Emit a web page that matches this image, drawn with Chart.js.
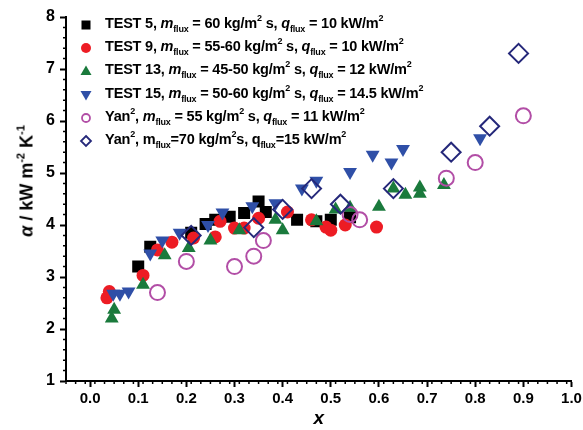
<!DOCTYPE html>
<html>
<head>
<meta charset="utf-8">
<script src="https://cdn.jsdelivr.net/npm/chart.js@4/dist/chart.umd.min.js"></script>
<style>
  html, body { margin: 0; padding: 0; background: #fff; }
  #wrap { position: relative; width: 583px; height: 430px; font-family: "Liberation Sans", Arial, sans-serif; }
  #grafico { position: absolute; left: 0; top: 0; }
  .leg { position: absolute; left: 78px; top: 13px; font-weight: bold; font-size: 14.5px; color: #000; }
  .row { position: relative; height: 23.2px; line-height: 20px; white-space: nowrap; }
  .row .mk { position: absolute; left: 0; top: 4px; width: 16px; height: 16px; }
  .row .tx { position: absolute; left: 27px; top: 0; letter-spacing: -0.2px; }
  sub, sup { font-size: 9px; line-height: 0; }
  sub { vertical-align: -4px; }
  sup { vertical-align: 7px; }
  .ytitle { position: absolute; left: 27px; top: 181px; transform: translate(-50%, -50%) rotate(-90deg);
            font-weight: bold; font-size: 18px; white-space: nowrap; }
  .ytitle sup { font-size: 11px; vertical-align: 8px; }
</style>
</head>
<body>
<div id="wrap">
  <canvas id="grafico" width="583" height="430"></canvas>
  <div class="ytitle"><i>α</i> / kW m<sup>-2</sup> K<sup>-1</sup></div>
  <div class="leg">
    <div class="row"><svg class="mk" viewBox="0 0 16 16"><rect x="3.5" y="3.5" width="9" height="9" fill="#000"/></svg><span class="tx">TEST 5, <i>m</i><sub>flux</sub> = 60 kg/m<sup>2</sup> s, <i>q</i><sub>flux</sub> = 10 kW/m<sup>2</sup></span></div>
    <div class="row"><svg class="mk" viewBox="0 0 16 16"><circle cx="8" cy="8" r="5" fill="#ed1c24"/></svg><span class="tx">TEST 9, <i>m</i><sub>flux</sub> = 55-60 kg/m<sup>2</sup> s, <i>q</i><sub>flux</sub> = 10 kW/m<sup>2</sup></span></div>
    <div class="row"><svg class="mk" viewBox="0 0 16 16"><polygon points="8,2.5 13.5,12 2.5,12" fill="#1a7a3c"/></svg><span class="tx">TEST 13, <i>m</i><sub>flux</sub> = 45-50 kg/m<sup>2</sup> s, <i>q</i><sub>flux</sub> = 12 kW/m<sup>2</sup></span></div>
    <div class="row"><svg class="mk" viewBox="0 0 16 16"><polygon points="2.5,4 13.5,4 8,13.5" fill="#2f4fa7"/></svg><span class="tx">TEST 15, <i>m</i><sub>flux</sub> = 50-60 kg/m<sup>2</sup> s, <i>q</i><sub>flux</sub> = 14.5 kW/m<sup>2</sup></span></div>
    <div class="row"><svg class="mk" viewBox="0 0 16 16"><circle cx="8" cy="8" r="4" fill="none" stroke="#b24ea6" stroke-width="1.8"/></svg><span class="tx">Yan<sup>2</sup>, <i>m</i><sub>flux</sub> = 55 kg/m<sup>2</sup> s, <i>q</i><sub>flux</sub> = 11 kW/m<sup>2</sup></span></div>
    <div class="row"><svg class="mk" viewBox="0 0 16 16"><polygon points="8,3 13,8 8,13 3,8" fill="none" stroke="#25287a" stroke-width="1.8"/></svg><span class="tx">Yan<sup>2</sup>, m<sub>flux</sub>=70 kg/m<sup>2</sup>s, q<sub>flux</sub>=15 kW/m<sup>2</sup></span></div>
  </div>
</div>
<script>
// valores (x = calidad de vapor, alfa en kW/m2K)
const test5X = [0.10, 0.125, 0.21, 0.24, 0.26, 0.29, 0.32, 0.35, 0.365, 0.43, 0.47, 0.50, 0.54];
const test5Y = [3.20, 3.58, 3.85, 4.02, 4.10, 4.16, 4.23, 4.45, 4.25, 4.10, 4.07, 4.10, 4.15];

const test9X = [0.035, 0.04, 0.11, 0.14, 0.17, 0.215, 0.26, 0.27, 0.30, 0.32, 0.35, 0.41, 0.46, 0.49, 0.50, 0.53, 0.595];
const test9Y = [2.60, 2.72, 3.03, 3.52, 3.67, 3.75, 3.77, 4.07, 3.94, 3.94, 4.13, 4.25, 4.10, 3.96, 3.90, 4.00, 3.96];

const test13X = [0.045, 0.05, 0.11, 0.155, 0.205, 0.25, 0.31, 0.385, 0.40, 0.47, 0.51, 0.54, 0.60, 0.63, 0.655, 0.685, 0.685, 0.735];
const test13Y = [2.20, 2.37, 2.85, 3.42, 3.56, 3.70, 3.90, 4.10, 3.90, 4.07, 4.30, 4.33, 4.35, 4.70, 4.58, 4.72, 4.60, 4.77];

const test15X = [0.048, 0.062, 0.08, 0.125, 0.15, 0.186, 0.245, 0.275, 0.337, 0.385, 0.44, 0.47, 0.54, 0.587, 0.626, 0.65, 0.81];
const test15Y = [2.68, 2.68, 2.72, 3.45, 3.70, 3.85, 4.00, 4.24, 4.36, 4.42, 4.70, 4.85, 5.02, 5.35, 5.20, 5.46, 5.67];

const yan55X = [0.14, 0.20, 0.30, 0.34, 0.36, 0.54, 0.56, 0.74, 0.80, 0.90];
const yan55Y = [2.70, 3.30, 3.20, 3.40, 3.70, 4.20, 4.10, 4.90, 5.20, 6.10];

const yan70X = [0.21, 0.34, 0.40, 0.46, 0.52, 0.63, 0.75, 0.83, 0.89];
const yan70Y = [3.80, 3.95, 4.30, 4.70, 4.40, 4.70, 5.40, 5.90, 7.30];

const xTicks = [0.0, 0.1, 0.2, 0.3, 0.4, 0.5, 0.6, 0.7, 0.8, 0.9, 1.0];
const yTicks = [1, 2, 3, 4, 5, 6, 7, 8];

function pares(xs, ys) {
  return xs.map(function (x, i) { return { x: x, y: ys[i] }; });
}

const series = [
  { label: 'TEST 5', data: pares(test5X, test5Y), pointStyle: 'rect', pointRadius: 8.5, backgroundColor: '#000', borderColor: '#000', borderWidth: 0 },
  { label: 'TEST 9', data: pares(test9X, test9Y), pointStyle: 'circle', pointRadius: 6.5, backgroundColor: '#ed1c24', borderColor: '#ed1c24', borderWidth: 0 },
  { label: 'TEST 13', data: pares(test13X, test13Y), pointStyle: 'triangle', pointRadius: 8, backgroundColor: '#1a7a3c', borderColor: '#1a7a3c', borderWidth: 0 },
  { label: 'TEST 15', data: pares(test15X, test15Y), pointStyle: 'triangle', rotation: 180, pointRadius: 8, backgroundColor: '#2f4fa7', borderColor: '#2f4fa7', borderWidth: 0 },
  { label: 'Yan 55', data: pares(yan55X, yan55Y), pointStyle: 'circle', pointRadius: 7.5, backgroundColor: 'rgba(0,0,0,0)', borderColor: '#b24ea6', borderWidth: 2 },
  { label: 'Yan 70', data: pares(yan70X, yan70Y), pointStyle: 'rectRot', pointRadius: 9.5, backgroundColor: 'rgba(0,0,0,0)', borderColor: '#25287a', borderWidth: 2 }
];
// el primero en la lista queda arriba, asi que invierto el orden
series.forEach(function (s, i) { s.order = series.length - i; s.pointHoverRadius = s.pointRadius; });

// ticks menores
const minorTicks = {
  id: 'minorTicks',
  afterDraw: function (chart) {
    const c = chart.ctx;
    const xs = chart.scales.x, ys = chart.scales.y;
    c.save();
    c.strokeStyle = '#000';
    c.lineWidth = 1.5;
    c.beginPath();
    for (let k = 0; k <= 52; k++) {
      const v = -0.05 + k * 0.02;
      if (Math.abs(v * 10 - Math.round(v * 10)) < 1e-6) continue;
      const px = xs.getPixelForValue(v);
      c.moveTo(px, xs.top); c.lineTo(px, xs.top + 3);
    }
    for (let k = 0; k <= 35; k++) {
      const v = 1 + k * 0.2;
      if (Math.abs(v - Math.round(v)) < 1e-6) continue;
      const py = ys.getPixelForValue(v);
      c.moveTo(ys.right, py); c.lineTo(ys.right - 3, py);
    }
    c.stroke();
    c.restore();
  }
};

const ctx = document.getElementById('grafico').getContext('2d');

new Chart(ctx, {
  type: 'scatter',
  data: { datasets: series },
  plugins: [minorTicks],
  options: {
    responsive: false,
    animation: false,
    layout: { padding: { left: 0, right: 8, top: 17, bottom: 0 } },
    plugins: { legend: { display: false }, tooltip: { enabled: false } },
    scales: {
      x: {
        type: 'linear',
        min: -0.05,
        max: 1.0,
        afterBuildTicks: function (axis) { axis.ticks = xTicks.map(function (v) { return { value: v }; }); },
        afterFit: function (axis) { axis.height = 49; axis.paddingLeft = 0; axis.paddingRight = 0; },
        ticks: {
          color: '#000',
          font: { family: 'Liberation Sans', size: 15, weight: 'bold' },
          padding: 3,
          maxRotation: 0,
          callback: function (v) { return Number(v).toFixed(1); }
        },
        grid: { drawOnChartArea: false, tickLength: 6, tickColor: '#000', tickWidth: 2 },
        border: { color: '#000', width: 2 },
        title: {
          display: true,
          text: 'x',
          color: '#000',
          font: { family: 'Liberation Sans', size: 19, weight: 'bold', style: 'italic' },
          padding: { top: 0, bottom: 0 }
        }
      },
      y: {
        type: 'linear',
        min: 1,
        max: 8,
        afterBuildTicks: function (axis) { axis.ticks = yTicks.map(function (v) { return { value: v }; }); },
        afterFit: function (axis) { axis.width = 66; axis.paddingTop = 0; axis.paddingBottom = 0; },
        ticks: {
          color: '#000',
          font: { family: 'Liberation Sans', size: 16, weight: 'bold' },
          padding: 5
        },
        grid: { drawOnChartArea: false, tickLength: 6, tickColor: '#000', tickWidth: 2 },
        border: { color: '#000', width: 2 }
      }
    }
  }
});
</script>
</body>
</html>
